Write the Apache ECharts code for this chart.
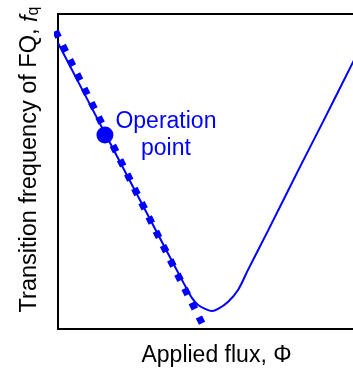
<!DOCTYPE html>
<html>
<head>
<meta charset="utf-8">
<script src="https://cdn.jsdelivr.net/npm/echarts@6/dist/echarts.min.js"></script>
<style>html,body{margin:0;padding:0;background:#fff}#c{width:353px;height:370px}</style>
</head>
<body>
<div id="c"></div>
<script>
// FQ transition frequency vs applied flux (arbitrary units)
const curveFlux = [0.00, 1.51, 2.90, 4.01, 4.23, 4.42, 4.64, 4.86, 5.05, 5.36, 5.68, 5.99, 6.63, 7.63, 8.33, 9.31, 9.69];
const curveFreq = [9.08, 6.16, 3.49, 1.37, 0.98, 0.76, 0.64, 0.57, 0.64, 0.86, 1.24, 1.87, 3.13, 5.14, 6.52, 8.48, 9.24];
// tangent (dotted) line at operation point
const tangentFlux = [-0.08, 4.57];
const tangentFreq = [9.46, 0.13];
// operation point
const opFlux = [1.48];
const opFreq = [6.16];
const opLabel = 'Operation\npoint';
const xName = 'Applied flux, Φ';
const yNameParts = ['Transition frequency of FQ, ', 'f', 'q'];

const FONT = '"Liberation Sans", Arial, Helvetica, sans-serif';
const BLUE = '#0000ff';

const chart = echarts.init(document.getElementById('c'), null, {renderer: 'canvas'});
chart.setOption({
  animation: false,
  backgroundColor: '#fff',
  grid: {left: 58, top: 14, width: 317, height: 315, outerBoundsMode: 'none', containLabel: false,
         show: true, borderColor: '#000', borderWidth: 2, backgroundColor: 'transparent'},
  xAxis: {
    type: 'value', min: 0, max: 10,
    axisLine: {show: false}, axisTick: {show: false}, axisLabel: {show: false}, splitLine: {show: false},
    name: xName, nameLocation: 'middle', nameGap: 15,
    nameTextStyle: {fontFamily: FONT, fontSize: 23, color: '#000'}
  },
  yAxis: {
    type: 'value', min: 0, max: 10,
    axisLine: {show: false}, axisTick: {show: false}, axisLabel: {show: false}, splitLine: {show: false},
    name: yNameParts[0] + '{i|' + yNameParts[1] + '}{sub|' + yNameParts[2] + '}',
    nameLocation: 'middle', nameGap: 16,
    nameTextStyle: {
      fontFamily: FONT, fontSize: 23.5, color: '#000', padding: [0, 0, 0, 24],
      rich: {
        i: {fontFamily: FONT, fontSize: 23.5, fontStyle: 'italic', color: '#000'},
        sub: {fontFamily: FONT, fontSize: 16, color: '#000', verticalAlign: 'bottom', padding: [8, 0, 0, 0]}
      }
    }
  },
  series: [
    {
      type: 'line', data: curveFlux.map((x, i) => [x, curveFreq[i]]),
      smooth: 0.3, showSymbol: false, symbol: 'none',
      lineStyle: {color: BLUE, width: 2}, z: 2
    },
    {
      type: 'line', data: tangentFlux.map((x, i) => [x, tangentFreq[i]]),
      showSymbol: false, symbol: 'none', clip: false,
      lineStyle: {color: BLUE, width: 7, type: [7, 9], cap: 'butt'}, z: 3
    },
    {
      type: 'scatter', data: opFlux.map((x, i) => [x, opFreq[i]]),
      symbol: 'circle', symbolSize: 17, itemStyle: {color: BLUE, opacity: 1}, z: 4,
      label: {
        show: true, position: 'inside', offset: [61, 0], formatter: opLabel,
        fontFamily: FONT, fontSize: 23, lineHeight: 27, color: BLUE, opacity: 1, align: 'center'
      }
    }
  ]
});
</script>
</body>
</html>
